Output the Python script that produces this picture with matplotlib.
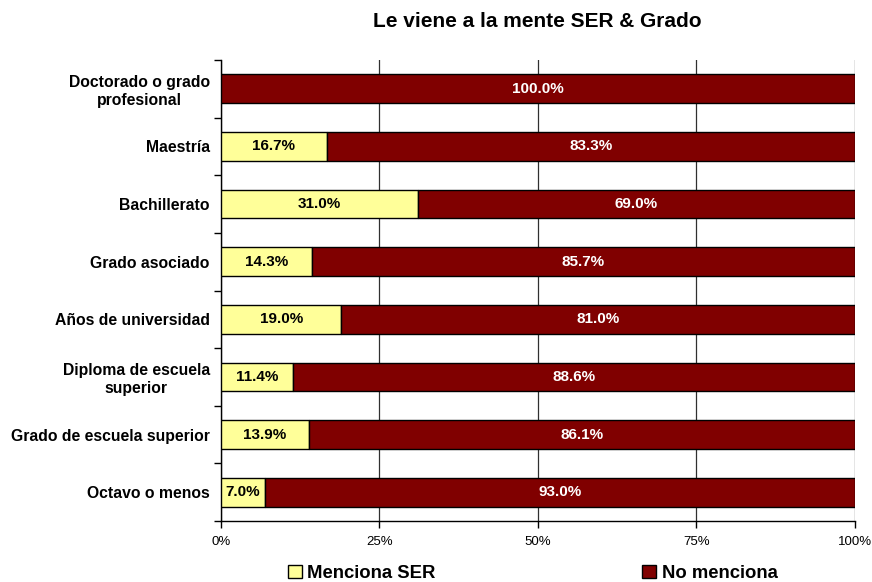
import matplotlib
matplotlib.use("Agg")
import matplotlib.pyplot as plt
import numpy as np

categories = ["Doctorado o grado\nprofesional", "Maestría", "Bachillerato", "Grado asociado",
              "Años de universidad", "Diploma de escuela\nsuperior", "Grado de escuela superior",
              "Octavo o menos"]
menciona = [0.0, 16.7, 31.0, 14.3, 19.0, 11.4, 13.9, 7.0]
no_menciona = [100.0, 83.3, 69.0, 85.7, 81.0, 88.6, 86.1, 93.0]
series_names = ["Menciona SER", "No menciona"]
xticks = [0, 25, 50, 75, 100]
xticklabels = ["0%", "25%", "50%", "75%", "100%"]

plt.rcParams['font.family'] = ['Liberation Sans', 'DejaVu Sans']

fig = plt.figure(figsize=(8.72, 5.82), dpi=100)
ax = fig.add_axes([0.2534, 0.1048, 0.7271, 0.7921])

y = np.arange(len(categories))
yellow = "#FFFF99"
red = "#800000"
h = 0.5
b1 = ax.barh(y, menciona, height=h, color=yellow, edgecolor="black", linewidth=1, label=series_names[0], zorder=3)
b2 = ax.barh(y, no_menciona, left=menciona, height=h, color=red, edgecolor="black", linewidth=1, label=series_names[1], zorder=3)

for i in range(len(categories)):
    if menciona[i] > 0:
        ax.text(menciona[i] / 2, y[i], f"{menciona[i]:.1f}%", ha="center", va="center",
                fontsize=11, fontweight="bold", color="black", zorder=4)
    ax.text(menciona[i] + no_menciona[i] / 2, y[i], f"{no_menciona[i]:.1f}%", ha="center", va="center",
            fontsize=11, fontweight="bold", color="white", zorder=4)

ax.set_xlim(0, 100)
ax.set_ylim(len(categories) - 0.5, -0.5)
ax.set_yticks(y)
ax.set_yticklabels(categories, fontsize=11.3, fontweight="bold", ha="right", multialignment="center")
ax.tick_params(axis="y", length=0, pad=8)
ax.set_yticks(np.arange(-0.5, len(categories), 1), minor=True)
ax.tick_params(axis="y", which="minor", length=5, direction="out", width=1)
ax.set_xticks(xticks)
ax.set_xticklabels(xticklabels, fontsize=9.5)
ax.tick_params(axis="x", length=5, direction="out", width=1, pad=6)
ax.xaxis.grid(True, color="#303030", linewidth=0.9, zorder=0)
ax.set_axisbelow(True)
for s in ["top", "right"]:
    ax.spines[s].set_visible(False)
for s in ["left", "bottom"]:
    ax.spines[s].set_color("black")
    ax.spines[s].set_linewidth(1)

fig.text(0.616, 0.963, "Le viene a la mente SER & Grado", ha="center", va="center",
         fontsize=15, fontweight="bold")

fig.legend(handles=[b1, b2], labels=series_names, loc="center", bbox_to_anchor=(0.611, 0.015),
           ncol=2, frameon=False, prop={"size": 13.3, "weight": "bold"}, columnspacing=11.2,
           handlelength=0.75, handleheight=0.75, handletextpad=0.3)

fig.savefig("out.png", dpi=100)
